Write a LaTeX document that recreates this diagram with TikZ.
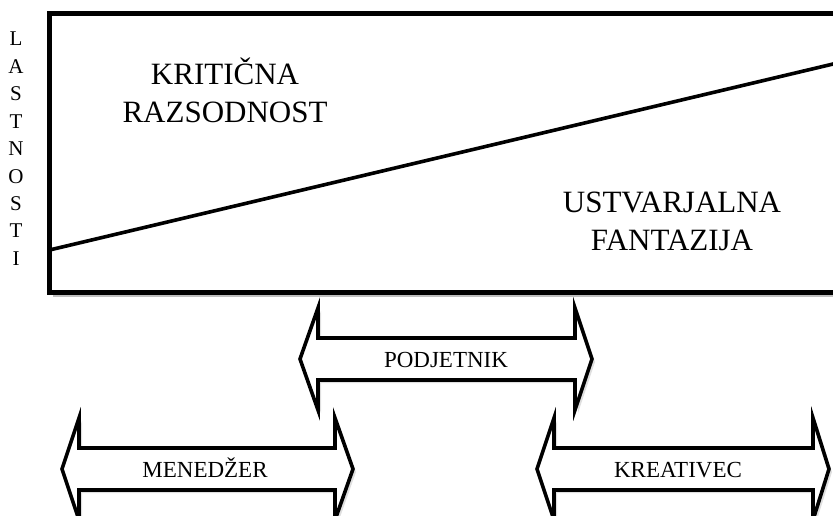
\documentclass[tikz,border=0pt]{standalone}
\usepackage{fontspec}
\setmainfont{Liberation Serif}
\usetikzlibrary{shadows}
\tikzset{
  frameline/.style={line width=5pt},
  splitline/.style={line width=3.6pt},
  dblarrow/.style={line width=3.6pt, fill=white, miter limit=10,
    drop shadow={opacity=0.25, shadow xshift=3pt, shadow yshift=-3pt}},
  bigtext/.style={font=\fontsize{31}{38}\selectfont, align=center, inner sep=0pt},
  arrowtext/.style={font=\fontsize{23}{26}\selectfont, inner sep=0pt, anchor=base},
  sidetext/.style={font=\fontsize{21}{24}\selectfont, inner sep=0pt, anchor=base}
}
\newcommand{\dblarrowpath}[5]{%
  % #1 left tip x, #2 left base x, #3 right base x, #4 right tip x, #5 center y
  \draw[dblarrow] (#1,#5) -- (#2,#5-51) -- (#2,#5-21) -- (#3,#5-21) -- (#3,#5-51)
    -- (#4,#5) -- (#3,#5+51) -- (#3,#5+21) -- (#2,#5+21) -- (#2,#5+51) -- cycle;
}
\begin{document}
\begin{tikzpicture}[x=1pt,y=-1pt]
\useasboundingbox (0,0) rectangle (833,516);
\clip (0,0) rectangle (833,516);
% frame
\fill[black!25] (53,18) rectangle (856,297);
\draw[frameline, fill=white] (49.5,14) rectangle (850,292);
\coordinate (lineL) at (49.5,250);
\coordinate (lineR) at (850,60);
\draw[splitline] (lineL) -- (lineR);
% texts in frame
\node[bigtext] (krit) at (225,90) {KRITIČNA\\RAZSODNOST};
\node[bigtext] (ustv) at (672,221) {USTVARJALNA\\FANTAZIJA};
% side letters
\foreach \l [count=\i from 0] in {L,A,S,T,N,O,S,T,I} {
  \node[sidetext] (side\i) at (16,46+27.4*\i) {\l};
}
% double arrows
\dblarrowpath{300}{318}{575}{592}{359}
\node[arrowtext] (podj) at (446,367) {PODJETNIK};
\dblarrowpath{62}{79}{335}{353}{469}
\node[arrowtext] (men) at (205,477) {MENEDŽER};
\dblarrowpath{537}{554}{813}{829}{469}
\node[arrowtext] (kre) at (678,477) {KREATIVEC};
\end{tikzpicture}
\end{document}
